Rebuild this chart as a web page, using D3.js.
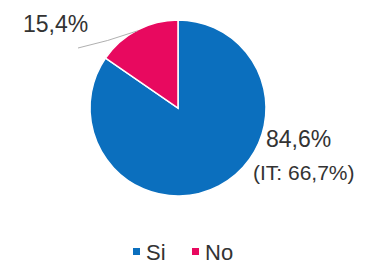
<!DOCTYPE html>
<html>
<head>
<meta charset="utf-8">
<script src="https://cdn.jsdelivr.net/npm/d3@7"></script>
<style>
  body { margin: 0; background: #fff; }
  text { font-family: "Liberation Sans", Arial, sans-serif; fill: #333; }
</style>
</head>
<body>
<svg id="chart" width="365" height="264"></svg>
<script>
// data
var categories = ['Si', 'No'];
var values = [84.6, 15.4];
var valueLabels = ['84,6%', '15,4%'];
var subLabel = '(IT: 66,7%)';
var colors = ['#0b6fbe', '#e8095f'];

var svg = d3.select('#chart');
var cx = 178, cy = 108, radius = 88;

var color = d3.scaleOrdinal().domain(categories).range(colors);

var pie = d3.pie().sort(null).value(function(d) { return d.value; });
var arc = d3.arc().innerRadius(0).outerRadius(radius);

var data = categories.map(function(c, i) { return {name: c, value: values[i], label: valueLabels[i]}; });
var arcs = pie(data);

var g = svg.append('g').attr('transform', 'translate(' + [cx, cy] + ')');

g.selectAll('.slice')
    .data(arcs)
    .enter()
    .append('path')
    .attr('class', 'slice')
    .attr('d', arc)
    .attr('fill', function(d) { return color(d.data.name); })
    .attr('stroke', '#fff')
    .attr('stroke-width', 1.5);

// leader line for the small slice
var small = arcs[1];
var mid = (small.startAngle + small.endAngle) / 2;
var p0 = [Math.sin(mid) * radius * 0.99, -Math.cos(mid) * radius * 0.99];
var p2 = [-100, -60];
var p1 = [(p0[0] + p2[0]) / 2, (p0[1] + p2[1]) / 2 + 2];
g.append('path')
    .attr('d', 'M' + p0 + 'Q' + p1 + ' ' + p2)
    .attr('fill', 'none')
    .attr('stroke', '#b0b0b0')
    .attr('stroke-width', 1);

g.append('text')
    .attr('x', -155).attr('y', -76)
    .style('font-size', '23px')
    .text(small.data.label);

// label for big slice
g.append('text')
    .attr('x', 88).attr('y', 39)
    .style('font-size', '23px')
    .text(arcs[0].data.label);
g.append('text')
    .attr('x', 75).attr('y', 72)
    .style('font-size', '21px')
    .text(subLabel);

// legend
var legend = svg.append('g').attr('transform', 'translate(133, 260)');
var offsets = [0, 59];
var items = legend.selectAll('.item')
    .data(categories)
    .enter()
    .append('g')
    .attr('class', 'item')
    .attr('transform', function(d, i) { return 'translate(' + offsets[i] + ',0)'; });
items.append('rect')
    .attr('x', 0).attr('y', -12)
    .attr('width', 7).attr('height', 7)
    .attr('fill', function(d) { return color(d); });
items.append('text')
    .attr('x', 13).attr('y', 0)
    .style('font-size', '22px')
    .text(function(d) { return d; });
</script>
</body>
</html>
